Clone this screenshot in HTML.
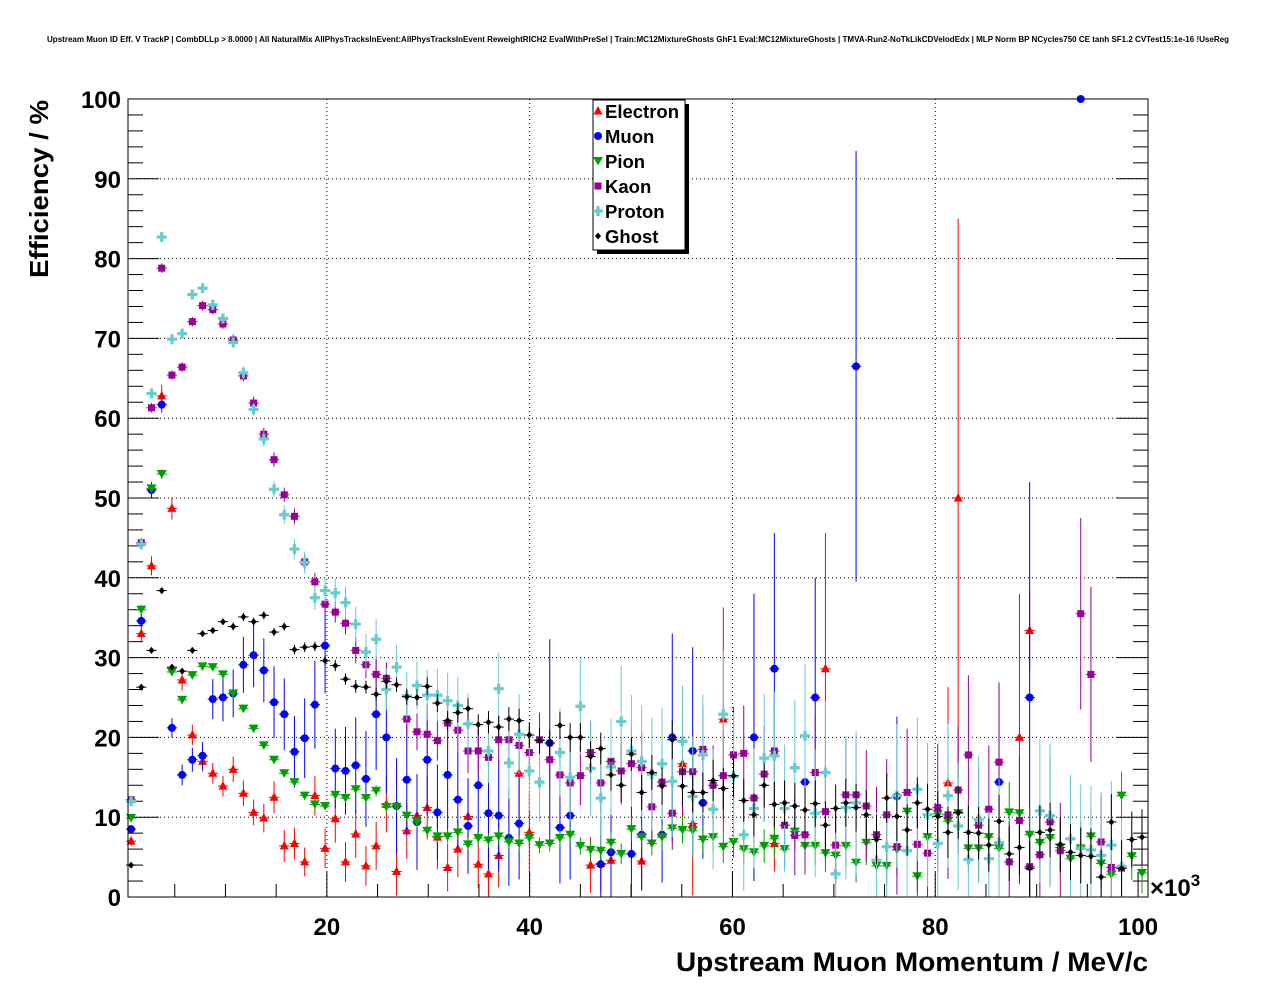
<!DOCTYPE html>
<html><head><meta charset="utf-8">
<style>
html,body{margin:0;padding:0;background:#fff;}
svg{display:block;font-family:"Liberation Sans",Arial,sans-serif;}
</style></head>
<body>
<svg id="chart" width="1276" height="996" viewBox="0 0 1276 996" xmlns="http://www.w3.org/2000/svg">
<rect x="0" y="0" width="1276" height="996" fill="#fff"/>
<text x="47" y="42" textLength="1182" lengthAdjust="spacingAndGlyphs" font-size="7.8" font-weight="bold">Upstream Muon ID Eff. V TrackP | CombDLLp &gt; 8.0000 | All NaturalMix AllPhysTracksInEvent:AllPhysTracksInEvent ReweightRICH2 EvalWithPreSel | Train:MC12MixtureGhosts GhF1 Eval:MC12MixtureGhosts | TMVA-Run2-NoTkLikCDVelodEdx | MLP Norm BP NCycles750 CE tanh SF1.2 CVTest15:1e-16 !UseReg</text>
<g id="grid"></g>
<g id="axes"></g>
<g id="series"></g>
<rect x="128" y="99" width="1020" height="798" fill="none" stroke="#000" stroke-width="1"/>
<text transform="translate(48,100) rotate(-90)" text-anchor="end" textLength="178" lengthAdjust="spacingAndGlyphs" font-size="26" font-weight="bold">Efficiency / %</text>
<text x="676" y="971" textLength="472" lengthAdjust="spacingAndGlyphs" font-size="27" font-weight="bold">Upstream Muon Momentum / MeV/c</text>
<text x="1150" y="896" font-size="24" font-weight="bold">×10<tspan font-size="17" dy="-10">3</tspan></text>
<g id="legend">
<rect x="597" y="104" width="92" height="150" fill="#000"/>
<rect x="593" y="100" width="92" height="150" fill="#fff" stroke="#000" stroke-width="1"/>
</g>
</svg>
<script>
const NS='http://www.w3.org/2000/svg';
const yTicks=[0,10,20,30,40,50,60,70,80,90,100];
const xTicks=[20,40,60,80,100];
const seriesNames=['Electron','Muon','Pion','Kaon','Proton','Ghost'];

const electronBins=[0,1,2,3,4,5,6,7,8,9,10,11,12,13,14,15,16,17,18,19,20,21,22,23,24,25,26,27,28,29,30,31,32,33,34,35,36,38,39,45,46,47,50,54,55,58,63,68,80,81,87,88];
const electronEff=[7.0,33.0,41.5,62.8,48.7,27.2,20.3,17.0,15.5,13.9,16.0,13.0,10.6,9.9,12.5,6.4,6.7,4.4,12.7,6.1,9.8,4.4,7.9,3.9,6.4,11.6,3.2,8.3,10.2,11.2,7.5,3.7,6.0,10.1,4.1,2.9,5.2,15.5,8.1,4.0,4.2,4.6,4.5,16.7,9.2,22.3,6.7,28.6,14.3,50.0,20.0,33.4];
const electronErr=[0.6,1.0,1.2,1.4,1.4,1.3,1.3,1.3,1.3,1.3,1.6,1.6,1.6,1.8,2.0,2.0,2.0,1.8,2.5,2.5,3,2.5,3,2.5,3,3.5,3,3.5,4,4,4,3,3.5,4.5,3,3,4,7,5,3.5,3.5,4,3.5,7,9,14,3.5,17,12,35,18,5];

const muonBins=[0,1,2,3,4,5,6,7,8,9,10,11,12,13,14,15,16,17,18,19,20,21,22,23,24,25,26,27,28,29,30,31,32,33,34,35,36,37,38,41,42,43,46,47,49,50,52,53,55,56,61,63,66,67,71,75,85,88,93];
const muonEff=[8.5,34.6,51.0,61.7,21.2,15.3,17.2,17.7,24.8,25.0,25.5,29.1,30.3,28.4,24.4,22.9,18.2,19.9,24.1,31.5,16.1,15.8,16.5,14.8,22.9,20.0,11.4,14.7,9.4,17.2,10.6,15.3,12.2,8.9,14.0,10.5,10.2,7.4,9.2,19.3,8.7,10.2,4.1,5.6,5.4,7.8,7.8,20.0,18.3,11.8,20.0,28.6,14.4,25.0,66.5,12.6,14.4,25.0,100];
const muonErr=[0.5,0.8,1.0,1.0,1.2,1.3,1.5,1.7,2.5,3,3,3.5,4,4,4.5,4.5,4.5,5,5.5,6,5,5.5,6,6,7,7,6,7,6,7,6,7,6,6,7,7,7,6,7,13,7,8,6,7,6,7,6,13,13,7,18,17,6,15,27,10,12,27,0];

const pionEff=[9.9,36.0,51.2,53.0,28.2,24.7,27.8,28.9,28.8,27.9,
25.5,23.6,21.1,19.0,17.2,15.5,14.4,12.7,11.6,11.4,
12.8,12.4,13.5,12.4,13.3,11.3,11.3,10.2,9.4,8.3,
7.6,7.6,8.1,6.6,7.4,7.1,7.6,6.9,6.7,7.4,
6.5,6.7,7.4,7.8,6.4,5.9,5.8,6.8,5.4,8.5,
7.5,6.7,7.5,8.6,8.4,8.3,7.2,7.5,6.3,6.9,
6.0,5.6,6.4,7.3,6.0,8.2,6.4,6.4,5.5,5.2,
6.4,4.3,6.8,3.9,3.9,5.9,10.7,2.6,7.5,10.4,
9.5,10.5,6.1,6.1,7.5,6.1,10.6,10.5,7.8,6.8,
7.4,6.2,4.8,6.1,7.6,4.2,2.8,12.7,5.1,3.0];
const pionErr=[0.4,0.6,0.6,0.6,0.5,0.5,0.5,0.5,0.5,0.5,
0.5,0.5,0.5,0.5,0.5,0.5,0.5,0.5,0.5,0.5,
0.6,0.6,0.6,0.6,0.7,0.7,0.7,0.7,0.7,0.7,
0.8,0.8,0.8,0.8,0.9,0.9,0.9,0.9,1.0,1.0,
1.0,1.0,1.1,1.1,1.1,1.2,1.2,1.3,1.3,1.5,
1.5,1.5,1.6,1.7,1.7,1.8,1.8,1.9,2.0,2.0,
2.0,2.0,2.1,2.2,2.2,2.4,2.3,2.4,2.4,2.5,
2.6,2.5,2.8,2.5,2.5,2.8,3.5,2.5,3.0,3.5,
3.5,3.5,3.0,3.0,3.2,3.0,3.8,3.8,3.3,3.2,
3.4,3.2,3.0,3.3,3.5,3.0,2.5,3.0,3.0,2.5];

const kaonEff=[12.2,44.4,61.3,78.8,65.4,66.4,72.1,74.1,73.6,71.8,
69.8,65.3,61.9,58.0,54.8,50.4,47.7,42.0,39.5,36.7,
35.7,34.3,30.9,29.1,27.9,27.4,null,22.3,20.7,20.4,
19.6,21.8,20.9,18.3,18.3,17.5,19.7,19.7,19.0,18.1,
19.7,17.2,15.3,14.3,15.2,18.1,14.3,17.0,15.8,16.7,
16.2,11.3,14.4,10.5,15.7,15.7,18.5,14.0,15.2,17.8,
18.0,12.4,15.4,18.3,9.0,7.7,7.8,15.6,10.7,6.5,
12.8,12.8,11.4,7.8,10.3,6.3,13.1,6.6,5.5,11.2,
10.3,13.4,17.8,9.0,11.0,16.9,4.4,9.6,3.8,5.3,
9.4,5.8,null,35.5,27.9,6.9,3.7,3.6,null,null];
const kaonErr=[0.5,0.6,0.6,0.6,0.6,0.6,0.6,0.6,0.6,0.6,
0.7,0.7,0.8,0.8,0.9,0.9,1.0,1.0,1.1,1.2,
1.3,1.4,1.6,1.7,1.8,2.0,0,2.2,2.3,2.4,
2.5,2.6,2.7,2.8,2.8,3.0,3.0,3.1,3.2,3.3,
3.4,3.5,3.5,3.6,3.7,4.0,4.0,4.2,4.2,4.4,
4.5,4.5,4.6,4.6,5.0,5.0,5.5,5.0,5.5,6.0,
6.0,5.5,6.0,7.0,5.5,5.0,5.0,7.0,6.0,5.0,
7.0,7.0,7.0,6.0,7.0,6.0,8.0,6.0,5.5,8.0,
8.0,8.0,10,7.0,8.0,10,5.0,8.0,4.0,6.0,
8.0,6.0,0,12,11,6.0,4.0,4.0,0,0];

const protonEff=[12.0,44.2,63.1,82.7,69.9,70.6,75.5,76.3,74.2,72.5,
69.5,65.7,61.1,57.4,51.1,47.9,43.6,41.9,37.5,38.4,
38.1,36.9,34.2,30.7,32.3,26.0,28.8,25.2,26.5,25.3,
25.3,24.6,24.0,21.7,null,18.3,26.1,16.8,20.4,15.8,
14.4,null,18.1,15.0,23.9,16.1,12.4,16.3,22.0,18.3,
17.0,15.4,16.7,14.5,19.5,12.6,17.8,11.0,22.9,15.1,
7.8,11.1,17.4,17.7,11.1,16.2,20.2,10.5,15.6,2.9,
11.2,11.8,null,4.6,6.3,12.7,5.8,13.5,10.3,6.7,
12.7,8.9,4.7,9.7,4.8,6.8,null,null,null,10.8,
10.2,null,7.3,6.1,5.9,5.2,6.5,3.8,null,null];
const protonErr=[0.5,0.6,0.6,0.6,0.6,0.6,0.6,0.6,0.6,0.6,
0.7,0.8,0.8,1.0,1.0,1.2,1.3,1.4,1.5,1.6,
1.8,2.0,2.2,2.3,2.5,2.6,2.8,3.0,3.0,3.2,
3.3,3.5,3.6,3.8,0,4,4.5,4.5,5,5,
5,0,5.5,5.5,6,6,6,6,7,7,
7,7,7,7,7,7.5,7.5,7.5,8,8,
7,7.5,8,8,8,8.5,9,8,9,5,
9,9,0,6,7,9,7,9,9,7,
9,8,6,8,6,8,0,0,0,9,
9,0,8,8,8,8,8,6,0,0];

const ghostEff=[4.0,26.3,30.9,38.4,28.8,28.3,30.9,33.0,33.4,34.5,
33.9,35.1,34.5,35.3,33.2,33.9,31.0,31.3,31.4,29.6,
29.0,27.3,26.4,26.3,25.4,27.0,26.6,25.1,25.0,26.4,
24.3,22.1,23.1,23.6,21.6,21.9,21.3,22.3,22.1,20.3,
19.6,19.3,21.5,20.0,20.0,17.6,18.6,15.3,14.0,17.9,
13.1,15.6,13.9,19.7,13.9,13.1,13.1,14.6,13.6,15.2,
12.1,10.3,14.0,11.6,11.8,11.4,10.9,11.7,9.0,11.1,
11.8,11.2,10.3,7.2,12.4,10.1,8.4,11.8,11.0,10.1,
8.1,10.6,8.1,8.0,6.5,9.5,5.4,6.2,3.6,8.1,
8.4,6.6,5.6,5.2,5.1,2.5,9.4,3.6,7.2,7.5];
const ghostErr=[0.3,0.4,0.4,0.4,0.4,0.4,0.4,0.4,0.4,0.4,
0.5,0.5,0.5,0.5,0.5,0.5,0.6,0.6,0.6,0.6,
0.7,0.7,0.8,0.8,0.8,0.9,0.9,1.0,1.0,1.1,
1.1,1.2,1.2,1.3,1.3,1.4,1.4,1.5,1.5,1.6,
1.6,1.7,1.7,1.8,1.8,1.9,2.0,2.0,2.1,2.1,
2.2,2.2,2.3,2.4,2.4,2.5,2.5,2.6,2.6,2.7,
2.7,2.7,2.8,2.8,2.8,2.9,2.9,2.9,3.0,3.0,
3.0,3.0,3.1,3.1,3.1,3.1,3.2,3.2,3.2,3.2,
3.2,3.3,3.3,3.3,3.3,3.3,3.4,3.4,3.4,3.4,
3.4,3.4,3.5,3.5,3.5,3.5,3.5,3.5,3.5,3.5];

const X0=128,X1=1148,Y0=897,Y1=99;
const xMin=0.39,xMax=100.98,yMin=0,yMax=100;
function xs(v){return X0+(v-xMin)/(xMax-xMin)*(X1-X0);}
function ys(v){return Y0-(v-yMin)/(yMax-yMin)*(Y0-Y1);}
const binLo=0.19,binW=1.007;
function binCentre(i){return binLo+binW*(i+0.5);}

function mk(tag,attrs,parent){const e=document.createElementNS(NS,tag);for(const k in attrs)e.setAttribute(k,attrs[k]);parent.appendChild(e);return e;}

const grid=document.getElementById('grid');
const axes=document.getElementById('axes');
yTicks.forEach(t=>{
  const y=ys(t);
  if(t>0&&t<100){const g=mk('line',{x1:X0,x2:X1,y1:y,y2:y,stroke:'#000','stroke-width':1,'stroke-dasharray':'1,3'},grid);
  
  }
  mk('line',{x1:X0,x2:X0+31,y1:y,y2:y,stroke:'#000'},axes);
  mk('line',{x1:X1,x2:X1-31,y1:y,y2:y,stroke:'#000'},axes);
  const lb=mk('text',{x:121,y:y+9,'text-anchor':'end','font-size':24,'font-weight':'bold'},axes);
  lb.textContent=t;
  
  
});
for(let v=2;v<100;v+=2){ if(v%10===0)continue; const y=ys(v);
  mk('line',{x1:X0,x2:X0+15,y1:y,y2:y,stroke:'#000'},axes);
  mk('line',{x1:X1,x2:X1-15,y1:y,y2:y,stroke:'#000'},axes);}
for(let v=5;v<=100;v+=5){ const x=xs(v); const major=v%20===0;
  mk('line',{x1:x,x2:x,y1:Y0,y2:Y0-(major?25:13),stroke:'#000'},axes);}
xTicks.forEach(t=>{
  const x=xs(t);
  if(t<100){const g=mk('line',{x1:x,x2:x,y1:Y1,y2:Y0,stroke:'#000','stroke-width':1,'stroke-dasharray':'1,3'},grid);
  
  }
  const lb=mk('text',{x:x,y:935,'text-anchor':'middle','font-size':24,'font-weight':'bold'},axes);
  lb.textContent=t;
  
  
});

const colors={Electron:'#ff0000',Muon:'#0000ff',Pion:'#00a000',Kaon:'#990099',Proton:'#66cccc',Ghost:'#000000'};
function marker(name,cx,cy,parent){
  const c=colors[name];
  if(name==='Electron') return mk('path',{d:`M${cx},${cy-5}L${cx+4.5},${cy+3.5}L${cx-4.5},${cy+3.5}Z`,fill:c},parent);
  if(name==='Muon') return mk('circle',{cx:cx,cy:cy,r:4,fill:c},parent);
  if(name==='Pion') return mk('path',{d:`M${cx-5},${cy-4}L${cx+5},${cy-4}L${cx},${cy+4.5}Z`,fill:c},parent);
  if(name==='Kaon') return mk('rect',{x:cx-3.5,y:cy-3.5,width:7,height:7,fill:c},parent);
  if(name==='Proton') return mk('path',{d:`M${cx-5},${cy-1.6}h3.4v-3.4h3.2v3.4h3.4v3.2h-3.4v3.4h-3.2v-3.4h-3.4Z`,fill:c},parent);
  return mk('path',{d:`M${cx},${cy-3.5}L${cx+3},${cy}L${cx},${cy+3.5}L${cx-3},${cy}Z`,fill:c},parent);
}
function drawSeries(name,bins,eff,err){
  const g=mk('g',{},document.getElementById('series'));
  
  
  const c=colors[name];
  for(let k=0;k<eff.length;k++){
    const v=eff[k]; if(v===null||v===undefined)continue;
    const i=bins?bins[k]:k;
    const xc=binCentre(i);
    const cx=xs(xc), cy=ys(v);
    const e=err[k]||0;
    const lo=ys(Math.max(0,v-e)), hi=ys(Math.min(100,v+e));
    const pt=mk('g',{},g);
    
    
    mk('line',{x1:xs(xc-binW/2),x2:xs(xc+binW/2),y1:cy,y2:cy,stroke:c,'stroke-width':1},pt);
    if(e>0) mk('line',{x1:cx,x2:cx,y1:lo,y2:hi,stroke:c,'stroke-width':1},pt);
    marker(name,cx,cy,pt);
  }
}
drawSeries('Electron',electronBins,electronEff,electronErr);
drawSeries('Muon',muonBins,muonEff,muonErr);
drawSeries('Pion',null,pionEff,pionErr);
drawSeries('Kaon',null,kaonEff,kaonErr);
drawSeries('Proton',null,protonEff,protonErr);
drawSeries('Ghost',null,ghostEff,ghostErr);

const legend=document.getElementById('legend');
seriesNames.forEach((n,j)=>{
  const y=111+j*25;
  const en=mk('g',{},legend);
  
  
  marker(n,598,y,en);
  const t=mk('text',{x:605,y:y+7,'font-size':18.5,'font-weight':'bold'},en);
  t.textContent=n;
});
</script>
</body></html>
